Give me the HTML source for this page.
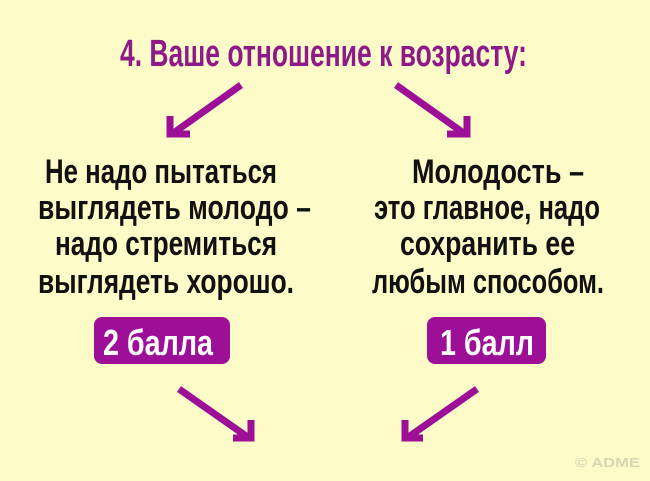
<!DOCTYPE html>
<html><head><meta charset="utf-8"><style>
html,body{margin:0;padding:0;background:#fdfbc8;}
svg{display:block}
text{font-family:"Liberation Sans Narrow","Liberation Sans",sans-serif;font-weight:bold;}
</style></head><body>
<svg width="650" height="481" viewBox="0 0 650 481" xmlns="http://www.w3.org/2000/svg">
<rect width="650" height="481" fill="#fdfbc8"/>
<text x="120" y="66" font-size="38" fill="#8e1a8a" textLength="407" lengthAdjust="spacingAndGlyphs">4. Ваше отношение к возрасту:</text>
<g stroke="#9c0f96" stroke-width="7" fill="none" stroke-linecap="butt">
<line x1="241" y1="85" x2="172" y2="134"/>
<polyline points="170,116 170,134 190,134"/>
<line x1="396" y1="85" x2="465" y2="134"/>
<polyline points="467,116 467,134 447,134"/>
<line x1="179" y1="389" x2="249" y2="438"/>
<polyline points="251,420 251,438 233,438"/>
<line x1="477" y1="389" x2="407" y2="438"/>
<polyline points="405,420 405,438 423,438"/>
</g>
<g font-size="34" fill="#111">
<text x="45" y="183" textLength="232" lengthAdjust="spacingAndGlyphs">Не надо пытаться</text>
<text x="38" y="219" textLength="273" lengthAdjust="spacingAndGlyphs">выглядеть молодо –</text>
<text x="55" y="255" textLength="222" lengthAdjust="spacingAndGlyphs">надо стремиться</text>
<text x="38" y="293" textLength="256" lengthAdjust="spacingAndGlyphs">выглядеть хорошо.</text>
<text x="412" y="183" textLength="172" lengthAdjust="spacingAndGlyphs">Молодость –</text>
<text x="374" y="219" textLength="226" lengthAdjust="spacingAndGlyphs">это главное, надо</text>
<text x="400" y="255" textLength="175" lengthAdjust="spacingAndGlyphs">сохранить ее</text>
<text x="372" y="293" textLength="232" lengthAdjust="spacingAndGlyphs">любым способом.</text>
</g>
<rect x="94" y="317" width="136" height="47" rx="8" fill="#9c0f96"/>
<rect x="427" y="317" width="119" height="47" rx="8" fill="#9c0f96"/>
<text x="103" y="355" font-size="36" fill="#fff" textLength="110" lengthAdjust="spacingAndGlyphs">2 балла</text>
<text x="440" y="355" font-size="36" fill="#fff" textLength="94" lengthAdjust="spacingAndGlyphs">1 балл</text>
<text x="575" y="467" font-size="13" fill="#d8d6b0" textLength="65" lengthAdjust="spacingAndGlyphs">© ADME</text>
</svg>
</body></html>
